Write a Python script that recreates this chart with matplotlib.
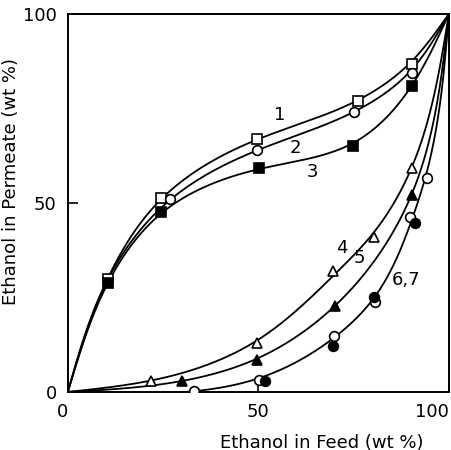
import numpy as np
import matplotlib
matplotlib.use("Agg")
import matplotlib.pyplot as plt

# data (wt % ethanol in feed vs permeate)
feed_1 = [0, 10.5, 24.5, 49.6, 76.1, 90.3, 100]
perm_1 = [0, 30.0, 51.3, 66.9, 77.0, 86.8, 100]
feed_2 = [0, 10.5, 26.8, 49.6, 75.0, 90.3, 100]
perm_2 = [0, 30.0, 51.0, 64.0, 74.0, 84.4, 100]
feed_3 = [0, 10.5, 24.5, 50.1, 74.8, 90.3, 100]
perm_3 = [0, 28.8, 47.6, 59.3, 65.0, 81.0, 100]
feed_4 = [0, 21.8, 49.6, 69.6, 80.3, 90.3, 100]
perm_4 = [0, 2.9, 13.0, 32.0, 41.0, 59.3, 100]
feed_5 = [0, 29.9, 49.6, 70.1, 90.3, 100]
perm_5 = [0, 2.9, 8.5, 22.8, 52.0, 100]
feed_6 = [0, 33.0, 50.1, 69.8, 80.6, 89.8, 94.2, 100]
perm_6 = [0, 0.3, 3.2, 14.8, 23.8, 46.3, 56.6, 100]
feed_7 = [0, 51.7, 69.6, 80.3, 91.1, 100]
perm_7 = [0, 3.0, 12.2, 25.1, 44.7, 100]

curve_labels = ["1", "2", "3", "4", "5", "6,7"]
label_pos = [(55.6, 73.3), (59.6, 64.5), (64.3, 58.2), (71.9, 38.1), (76.6, 35.4), (88.7, 29.6)]


## Smoothing curve through the points: penalised least squares on a fine
## grid of the chord-length parameter, end points held fixed
def smooth(x, y, lam, n=400):
    x = np.asarray(x, float)
    y = np.asarray(y, float)
    t = np.concatenate([[0], np.cumsum(np.hypot(np.diff(x), np.diff(y)))])
    ts = np.linspace(0, t[-1], n)
    dt = ts[1] - ts[0]
    B = np.zeros((len(t), n))
    for i, ti in enumerate(t):
        j = min(int(ti / dt), n - 2)
        f = ti / dt - j
        B[i, j] = 1 - f
        B[i, j + 1] = f
    w = np.ones(len(t))
    w[0] = w[-1] = 1e6
    D = np.diff(np.eye(n), 2, axis=0) / dt**2
    A = B.T @ (w[:, None] * B) + lam * dt * D.T @ D
    xs = np.linalg.solve(A, B.T @ (w * x))
    ys = np.linalg.solve(A, B.T @ (w * y))
    return xs, ys


fig = plt.figure(figsize=(4.52, 4.5), dpi=100)
ax = fig.add_axes([0.150, 0.129, 0.843, 0.840])

kw = dict(color="black", lw=1.3)
mk = dict(ms=7, mew=1.2, mec="black", ls="none", zorder=3)

for fx, py, lam in [(feed_1, perm_1, 300), (feed_2, perm_2, 300), (feed_3, perm_3, 300),
                    (feed_4, perm_4, 600), (feed_5, perm_5, 600), (feed_6, perm_6, 600)]:
    xs, ys = smooth(fx, py, lam)
    ax.plot(xs, ys, **kw)

ax.plot(feed_1[1:-1], perm_1[1:-1], marker="s", mfc="white", **mk)
ax.plot(feed_2[2:-1], perm_2[2:-1], marker="o", mfc="white", **mk)
ax.plot(feed_3[1:-1], perm_3[1:-1], marker="s", mfc="black", **mk)
ax.plot(feed_4[1:-1], perm_4[1:-1], marker="^", mfc="white", **mk)
ax.plot(feed_5[1:-1], perm_5[1:-1], marker="^", mfc="black", **mk)
ax.plot(feed_6[1:-1], perm_6[1:-1], marker="o", mfc="white", **mk)
ax.plot(feed_7[1:-1], perm_7[1:-1], marker="o", mfc="black", **mk)

for lab, (lx, ly) in zip(curve_labels, label_pos):
    ax.text(lx, ly, lab, fontsize=13, ha="center", va="center")

ax.set_xlim(0, 100)
ax.set_ylim(0, 100)
ax.set_xticks([0, 50, 100])
ax.set_yticks([0, 50, 100])
ax.tick_params(direction="in", length=7, width=1.2, labelsize=13, pad=8)
xl = ax.get_xticklabels()
xl[0].set_horizontalalignment("right")
xl[-1].set_horizontalalignment("right")
for s in ax.spines.values():
    s.set_linewidth(1.4)

ax.set_xlabel("Ethanol in Feed (wt %)", fontsize=13, labelpad=10)
ax.xaxis.set_label_coords(0.667, -0.11)
ax.set_ylabel("Ethanol in Permeate (wt %)", fontsize=13, labelpad=8)
ax.yaxis.set_label_coords(-0.125, 0.556)

fig.savefig("out.png", dpi=100)
